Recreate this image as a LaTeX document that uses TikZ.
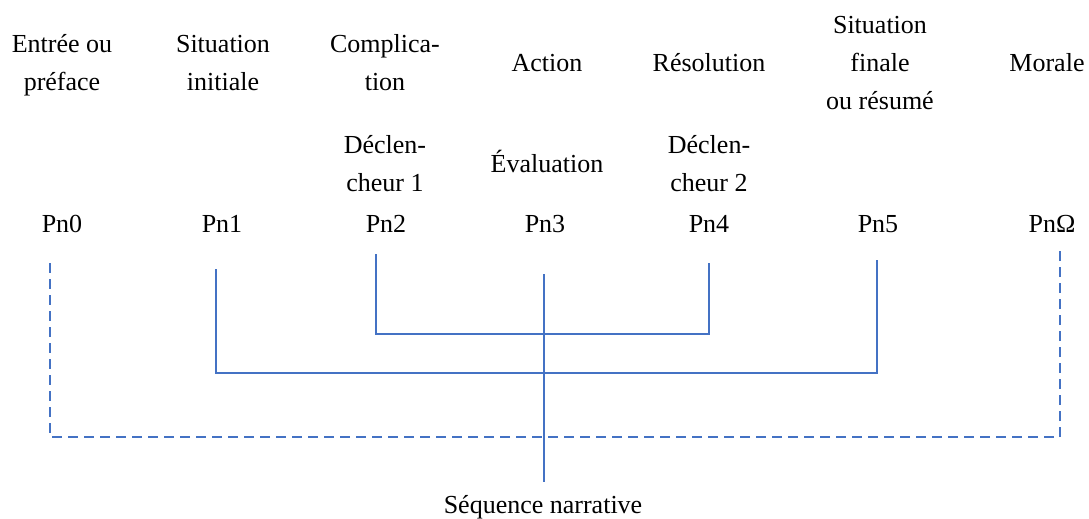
\documentclass[tikz,border=0pt]{standalone}
\usepackage{fontspec}
\setmainfont{Liberation Serif}
\definecolor{lineblue}{RGB}{68,114,196}
\begin{document}
\begin{tikzpicture}[x=1pt,y=-1pt,
  lbl/.style={inner sep=0pt, align=center, anchor=base, font=\fontsize{26}{38}\selectfont},
  conn/.style={draw=lineblue, line width=1.2pt},
  dconn/.style={draw=lineblue, line width=1.6pt, dash pattern=on 10pt off 6pt}]
\useasboundingbox (0,0) rectangle (1089,519);
% top labels (anchor base = baseline of last line)
\node[lbl] (t0) at (62,90) {Entrée ou\\préface};
\node[lbl] (t1) at (223,90) {Situation\\initiale};
\node[lbl] (t2) at (385,90) {Complica-\\tion};
\node[lbl] (t3) at (547,71) {Action};
\node[lbl] (t4) at (709,71) {Résolution};
\node[lbl] (t5) at (880,109) {Situation\\finale\\ou résumé};
\node[lbl] (t6) at (1047,71) {Morale};
% second row
\node[lbl] (s2) at (385,191) {Déclen-\\cheur 1};
\node[lbl] (s3) at (547,172) {Évaluation};
\node[lbl] (s4) at (709,191) {Déclen-\\cheur 2};
% Pn row
\node[lbl] (p0) at (62,232) {Pn0};
\node[lbl] (p1) at (222,232) {Pn1};
\node[lbl] (p2) at (386,232) {Pn2};
\node[lbl] (p3) at (545,232) {Pn3};
\node[lbl] (p4) at (709,232) {Pn4};
\node[lbl] (p5) at (878,232) {Pn5};
\node[lbl] (p6) at (1052,232) {PnΩ};
% bottom label
\node[lbl] (seq) at (543,513) {Séquence narrative};
% coordinates
\coordinate (d0) at (50,263);
\coordinate (d6) at (1060,249);
\coordinate (dm) at (544,437);
\coordinate (b1) at (216,269);
\coordinate (b5) at (877,260);
\coordinate (bm) at (544,373);
\coordinate (a2) at (376,254);
\coordinate (a4) at (709,263);
\coordinate (am) at (544,334);
\coordinate (ctop) at (544,274);
\coordinate (cbot) at (544,482);
% connectors
\draw[dconn] (d0) |- (dm) -| (d6);
\draw[conn] (b1) |- (bm) -| (b5);
\draw[conn] (a2) |- (am) -| (a4);
\draw[conn] (ctop) -- (cbot);
\end{tikzpicture}
\end{document}
